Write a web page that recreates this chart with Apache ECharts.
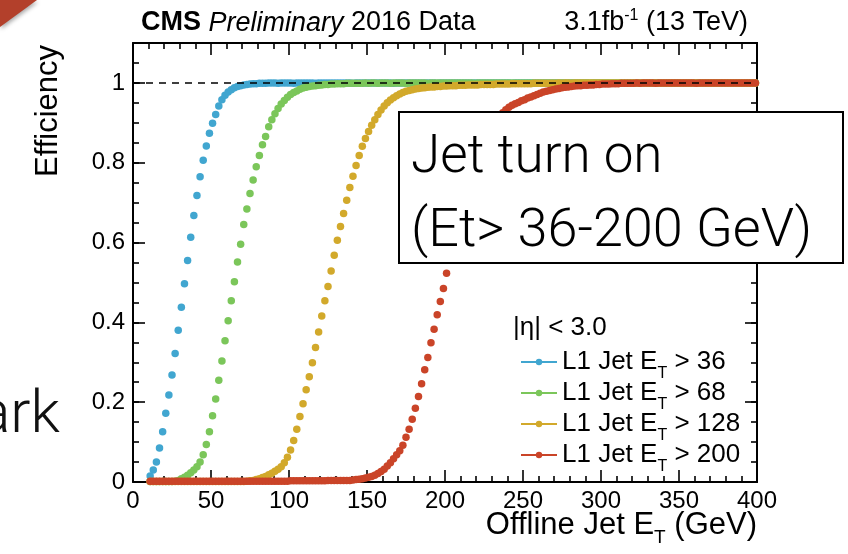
<!DOCTYPE html>
<html>
<head>
<meta charset="utf-8">
<script src="https://cdn.jsdelivr.net/npm/echarts@6/dist/echarts.min.js"></script>
<style>
  html, body { margin: 0; padding: 0; background: #ffffff; }
  #chart { width: 848px; height: 554px; }
</style>
</head>
<body>
<div id="chart"></div>
<script>
// Offline jet ET bin centres (GeV), 2 GeV bins
const binCenters = [
  11,13,15,17,19,21,23,25,27,29,
  31,33,35,37,39,41,43,45,47,49,
  51,53,55,57,59,61,63,65,67,69,
  71,73,75,77,79,81,83,85,87,89,
  91,93,95,97,99,101,103,105,107,109,
  111,113,115,117,119,121,123,125,127,129,
  131,133,135,137,139,141,143,145,147,149,
  151,153,155,157,159,161,163,165,167,169,
  171,173,175,177,179,181,183,185,187,189,
  191,193,195,197,199,201,203,205,207,209,
  211,213,215,217,219,221,223,225,227,229,
  231,233,235,237,239,241,243,245,247,249,
  251,253,255,257,259,261,263,265,267,269,
  271,273,275,277,279,281,283,285,287,289,
  291,293,295,297,299,301,303,305,307,309,
  311,313,315,317,319,321,323,325,327,329,
  331,333,335,337,339,341,343,345,347,349,
  351,353,355,357,359,361,363,365,367,369,
  371,373,375,377,379,381,383,385,387,389,
  391,393,395,397,399
];

// L1 jet trigger efficiency, one value per bin
const effJet36 = [
  0.015,0.03,0.05,0.085,0.126,0.172,0.218,0.268,0.322,0.38,
  0.438,0.497,0.555,0.613,0.668,0.718,0.765,0.806,0.842,0.874,
  0.899,0.921,0.942,0.958,0.969,0.977,0.983,0.988,0.991,0.993,
  0.995,0.996,0.997,0.998,0.998,0.999,0.999,0.999,1,1,
  1,0.999,1,1,1,1,0.999,1,1,1,
  1,1,1,0.999,1,1,1,1,1,1,
  1,1,1,1,1,0.999,1,1,1,1,
  1,1,1,1,1,1,1,1,0.999,1,
  1,1,1,1,1,1,1,1,1,1,
  1,1,0.999,1,1,1,1,1,1,1,
  1,1,1,1,1,1,1,1,1,1,
  1,1,1,1,1,1,0.999,1,1,1,
  1,1,1,1,1,1,1,1,1,1,
  1,1,1,1,1,1,1,1,1,1,
  1,0.999,1,1,1,1,1,1,1,1,
  1,1,1,1,1,1,1,1,1,1,
  1,1,1,1,1,1,1,0.999,1,1,
  1,1,1,1,1,1,1,1,1,1,
  1,1,1,1,1,1,1,1,1,1,
  1,1,1,1,1
];
const effJet68 = [
  0.001,0.001,0.001,0.001,0.001,0.001,0.001,0.001,0.002,0.004,
  0.008,0.012,0.017,0.023,0.03,0.038,0.05,0.068,0.094,0.126,
  0.166,0.208,0.255,0.303,0.354,0.404,0.454,0.502,0.551,0.596,
  0.645,0.684,0.723,0.757,0.79,0.818,0.845,0.866,0.89,0.908,
  0.923,0.936,0.947,0.956,0.964,0.971,0.976,0.98,0.984,0.987,
  0.989,0.991,0.992,0.993,0.994,0.995,0.996,0.996,0.997,0.997,
  0.998,0.998,0.998,0.999,0.999,0.999,0.999,0.999,0.999,1,
  0.999,1,1,0.999,1,1,1,0.999,1,1,
  1,1,0.999,1,1,1,1,1,1,0.999,
  1,1,1,1,1,1,1,1,1,1,
  1,1,1,1,0.999,1,1,1,1,1,
  1,1,1,1,1,1,1,1,1,1,
  1,1,1,1,1,1,1,1,1,1,
  1,1,1,1,1,1,1,1,1,1,
  1,1,1,1,1,1,1,1,1,1,
  1,1,1,1,1,1,1,1,1,1,
  1,1,1,1,1,1,1,1,1,1,
  1,1,1,1,1,1,1,1,1,1,
  1,1,1,1,1,1,1,1,1,1,
  1,1,1,1,1
];
const effJet128 = [
  0.001,0.001,0.001,0.001,0.001,0.001,0.001,0.001,0.001,0.001,
  0.001,0.001,0.001,0.001,0.001,0.001,0.001,0.001,0.001,0.001,
  0.001,0.001,0.001,0.001,0.001,0.001,0.001,0.001,0.001,0.001,
  0.001,0.002,0.003,0.004,0.006,0.008,0.011,0.014,0.018,0.022,
  0.027,0.032,0.038,0.048,0.062,0.08,0.104,0.132,0.164,0.196,
  0.231,0.264,0.299,0.337,0.376,0.416,0.454,0.49,0.529,0.568,
  0.606,0.64,0.673,0.706,0.738,0.766,0.793,0.818,0.841,0.861,
  0.878,0.894,0.908,0.921,0.932,0.942,0.95,0.957,0.963,0.968,
  0.972,0.976,0.979,0.981,0.983,0.985,0.986,0.987,0.988,0.989,
  0.99,0.99,0.991,0.991,0.992,0.992,0.993,0.993,0.993,0.994,
  0.994,0.994,0.995,0.995,0.995,0.995,0.996,0.996,0.996,0.996,
  0.996,0.997,0.997,0.997,0.997,0.997,0.998,0.998,0.998,0.998,
  0.998,0.998,0.998,0.999,0.999,0.999,0.999,0.999,0.999,0.999,
  0.999,1,0.999,1,1,0.999,1,1,1,1,
  1,1,1,1,1,1,1,1,1,1,
  1,1,1,1,1,1,1,1,1,1,
  1,1,1,1,1,1,1,1,1,1,
  1,1,1,1,1,1,1,1,1,1,
  1,1,1,1,1,1,1,1,1,1,
  1,1,1,1,1
];
const effJet200 = [
  0.002,0.002,0.002,0.002,0.002,0.002,0.002,0.002,0.002,0.002,
  0.002,0.002,0.002,0.002,0.002,0.002,0.002,0.002,0.002,0.002,
  0.002,0.002,0.002,0.002,0.002,0.002,0.002,0.002,0.002,0.002,
  0.002,0.002,0.002,0.002,0.002,0.002,0.002,0.002,0.002,0.002,
  0.002,0.002,0.002,0.002,0.002,0.003,0.003,0.003,0.003,0.003,
  0.003,0.003,0.003,0.003,0.003,0.003,0.003,0.004,0.004,0.004,
  0.004,0.004,0.004,0.004,0.004,0.005,0.006,0.007,0.008,0.01,
  0.012,0.014,0.017,0.021,0.026,0.032,0.04,0.048,0.058,0.068,
  0.078,0.092,0.112,0.132,0.157,0.185,0.214,0.246,0.281,0.312,
  0.349,0.383,0.419,0.452,0.485,0.523,0.56,0.594,0.626,0.656,
  0.686,0.714,0.741,0.765,0.788,0.81,0.83,0.848,0.865,0.88,
  0.894,0.906,0.916,0.925,0.933,0.939,0.944,0.948,0.951,0.955,
  0.958,0.962,0.965,0.968,0.971,0.974,0.977,0.979,0.981,0.983,
  0.985,0.986,0.988,0.989,0.99,0.991,0.992,0.993,0.993,0.994,
  0.994,0.995,0.995,0.996,0.996,0.997,0.997,0.997,0.998,0.998,
  0.998,0.999,0.999,0.999,0.999,0.999,1,0.999,1,1,
  1,1,0.999,1,1,1,1,1,1,1,
  1,1,1,1,1,0.999,1,1,1,1,
  1,1,1,1,1,1,1,1,1,1,
  1,1,1,1,1
];

const thresholds = [36, 68, 128, 200];
const efficiencies = [effJet36, effJet68, effJet128, effJet200];
const seriesColors = ['#41a6d0', '#7bc65a', '#d2a92b', '#ca4428'];
const yTickLabels = { 0: '0', 0.2: '0.2', 0.4: '0.4', 0.6: '0.6', 0.8: '0.8', 1: '1' };

const ROOT_FONT = '"Liberation Sans", Arial, Helvetica, sans-serif';
const SLIDE_FONT = 'Roboto, "Liberation Sans", sans-serif';

const chart = echarts.init(document.getElementById('chart'), null, { renderer: 'canvas' });

const frameLine = { show: true, onZero: false, lineStyle: { color: '#000', width: 2 } };
const tickStyle = { color: '#000', width: 1.6 };

function xAxisDef(pos, withLabels) {
  return {
    type: 'value', position: pos, min: 0, max: 400, interval: 50,
    axisLine: frameLine,
    axisTick: { show: true, inside: true, length: 12, lineStyle: tickStyle },
    minorTick: { show: true, splitNumber: 5, length: 6, lineStyle: tickStyle },
    splitLine: { show: false }, minorSplitLine: { show: false },
    axisLabel: {
      show: withLabels, margin: 7, color: '#000', fontSize: 24, fontFamily: ROOT_FONT,
      showMinLabel: true, showMaxLabel: true
    }
  };
}
function yAxisDef(pos, step, tickLen, withLabels) {
  return {
    type: 'value', position: pos, min: 0, max: 1.1, interval: step,
    axisLine: withLabels || pos === 'right' ? frameLine : { show: false, onZero: false },
    axisTick: { show: true, inside: true, length: tickLen, lineStyle: tickStyle },
    splitLine: { show: false },
    axisLabel: {
      show: withLabels, margin: 8, color: '#000', fontSize: 24, fontFamily: ROOT_FONT,
      formatter: function (v) {
        const key = Math.round(v * 10) / 10;
        return (key in yTickLabels && Math.abs(key - v) < 1e-6) ? yTickLabels[key] : '';
      }
    }
  };
}

const dataSeries = thresholds.map(function (thr, k) {
  return {
    name: 'L1 Jet E_T > ' + thr,
    type: 'line',
    data: binCenters.map(function (x, i) { return [x, efficiencies[k][i]]; }),
    symbol: 'circle',
    symbolSize: 7.5,
    showSymbol: true,
    showAllSymbol: true,
    lineStyle: { width: 0, opacity: 0 },
    itemStyle: { color: seriesColors[k] },
    emphasis: { disabled: true },
    silent: true,
    z: 2 + k
  };
});

// unit-efficiency reference line
const unityLine = {
  name: 'unity', type: 'line',
  data: [[0, 1], [400, 1]],
  symbol: 'none',
  lineStyle: { color: '#000', width: 1.5, type: [7, 6] },
  silent: true, z: 10
};

const titleRich = {
  b: { fontFamily: ROOT_FONT, fontSize: 27, fontWeight: 'bold', color: '#000', lineHeight: 30 },
  i: { fontFamily: ROOT_FONT, fontSize: 27, fontWeight: 'normal', fontStyle: 'italic', color: '#000', lineHeight: 30 },
  r: { fontFamily: ROOT_FONT, fontSize: 27, fontWeight: 'normal', color: '#000', lineHeight: 30 },
  s: { fontFamily: ROOT_FONT, fontSize: 16, fontWeight: 'normal', color: '#000', lineHeight: 16, padding: [0, 0, 14, 0] }
};

chart.setOption({
  animation: false,
  backgroundColor: '#ffffff',
  title: [
    {
      text: '{b|CMS}{r| }{i|Preliminary}{r| 2016 Data}',
      left: 141, top: 8, padding: 0,
      textStyle: { fontWeight: 'normal', rich: titleRich }
    },
    {
      text: '{r|3.1fb}{s|-1}{r| (13 TeV)}',
      right: 100, top: 8, padding: 0,
      textStyle: { fontWeight: 'normal', rich: titleRich }
    }
  ],
  legend: {
    data: dataSeries.map(function (s) { return s.name; }),
    orient: 'vertical',
    left: 520, top: 342, padding: 0,
    itemWidth: 36, itemHeight: 8, itemGap: -9,
    selectedMode: false,
    lineStyle: { width: 2, opacity: 1 },
    formatter: function (name) {
      const parts = name.split('E_T');
      return '{m|' + parts[0] + 'E}{s|T}{m|' + parts[1] + '}';
    },
    textStyle: {
      color: '#000',
      rich: {
        m: { fontFamily: ROOT_FONT, fontSize: 26, color: '#000', lineHeight: 40 },
        s: { fontFamily: ROOT_FONT, fontSize: 16, color: '#000', lineHeight: 16, padding: [24, 0, 0, 0] }
      }
    }
  },
  grid: { left: 133, right: 91, top: 43, bottom: 72, containLabel: false, outerBoundsMode: 'none' },
  xAxis: [xAxisDef('bottom', true), xAxisDef('top', false)],
  yAxis: [
    yAxisDef('left', 0.2, 12, true),
    yAxisDef('left', 0.05, 6, false),
    yAxisDef('right', 0.2, 12, false),
    yAxisDef('right', 0.05, 6, false)
  ],
  series: dataSeries.concat([unityLine]),
  graphic: [
    // slide corner ribbon
    {
      type: 'polygon', z: 50,
      shape: { points: [[0, 0], [37, 0], [0, 27]] },
      style: { fill: '#b3402b', shadowBlur: 4, shadowColor: 'rgba(0,0,0,0.35)', shadowOffsetX: 1, shadowOffsetY: 2 }
    },
    // slide body text
    {
      type: 'text', x: 60, y: 417, z: 50,
      style: { text: 'ark', fontFamily: SLIDE_FONT, fontWeight: 300, fontSize: 60, fill: '#111', align: 'right', verticalAlign: 'middle' }
    },
    // y axis title
    {
      type: 'text', x: 64, y: 177, rotation: Math.PI / 2, z: 50,
      style: { text: 'Efficiency', fontFamily: ROOT_FONT, fontSize: 31, fill: '#000', align: 'left', verticalAlign: 'bottom' }
    },
    // x axis title
    {
      type: 'text', x: 757, y: 505, z: 50,
      style: {
        text: '{m|Offline Jet E}{s|T}{m| (GeV)}',
        align: 'right', verticalAlign: 'top',
        rich: {
          m: { fontFamily: ROOT_FONT, fontSize: 31, fill: '#000', lineHeight: 40 },
          s: { fontFamily: ROOT_FONT, fontSize: 19, fill: '#000', lineHeight: 19, padding: [25, 0, 0, 0] }
        }
      }
    },
    // legend header
    {
      type: 'text', x: 513, y: 328, z: 50,
      style: { text: '|η| < 3.0', fontFamily: ROOT_FONT, fontSize: 26, fill: '#000', align: 'left', verticalAlign: 'middle' }
    },
    // annotation box
    {
      type: 'rect', z: 60,
      shape: { x: 399, y: 112, width: 444, height: 151 },
      style: { fill: '#ffffff', stroke: '#000', lineWidth: 2 }
    },
    {
      type: 'text', x: 411, y: 159, z: 61,
      style: { text: 'Jet turn on', fontFamily: SLIDE_FONT, fontWeight: 300, fontSize: 53, fill: '#000', align: 'left', verticalAlign: 'middle' }
    },
    {
      type: 'text', x: 411, y: 232, z: 61,
      style: { text: '(Et> 36-200 GeV)', fontFamily: SLIDE_FONT, fontWeight: 300, fontSize: 54, fill: '#000', align: 'left', verticalAlign: 'middle' }
    }
  ]
});
</script>
</body>
</html>
